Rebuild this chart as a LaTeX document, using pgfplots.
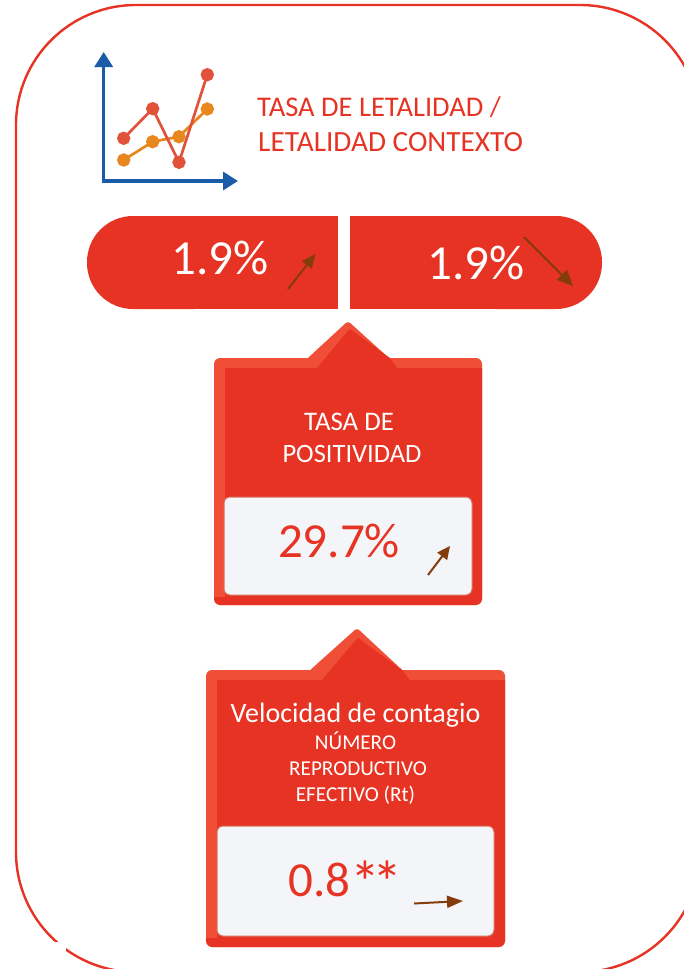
\documentclass[border=0pt]{standalone}
\usepackage{fontspec}
\setmainfont{Carlito}
\usepackage{pgfplots}
\pgfplotsset{compat=1.18}
\usetikzlibrary{arrows.meta}
\definecolor{hred}{HTML}{E73323}
\definecolor{hlight}{HTML}{F04E36}
\definecolor{hblue}{HTML}{1A5CA8}
\definecolor{hline}{HTML}{E0533A}
\definecolor{horange}{HTML}{E8871E}
\definecolor{harrow}{HTML}{843C0C}
\definecolor{hcard}{HTML}{F4F5F8}
\definecolor{hedge}{HTML}{D9705F}
\newcommand{\fs}[1]{\fontsize{#1}{#1}\selectfont}
\begin{document}
\begin{tikzpicture}
\useasboundingbox (0,0) rectangle (684pt,969pt);
\begin{axis}[
  at={(0,0)},anchor=south west,
  scale only axis,width=684pt,height=969pt,
  xmin=0,xmax=684,ymin=0,ymax=969,y dir=reverse,
  hide axis,clip=true]
% outer frame
\addplot[draw=hred,line width=2.4pt,rounded corners=120pt] coordinates {(16,5) (700,5) (700,972) (16,972)} --cycle;
\addplot[fill=white,draw=none] coordinates {(30,942) (66,942) (66,969) (30,969)} --cycle;
% icon
\addplot[hblue,line width=3.4pt,-{Triangle[length=15pt,width=18pt]}] coordinates {(103.7,181) (103.7,52)};
\addplot[hblue,line width=3.4pt,-{Triangle[length=15pt,width=18pt]}] coordinates {(102,181) (238,181)};
\addplot[horange,line width=2.7pt,mark=*,mark size=5.3pt,mark options={fill=horange,draw=none}] coordinates {(123.7,160) (152.7,141.7) (179,136.7) (207.3,109)};
\addplot[hline,line width=2.7pt,mark=*,mark size=5.3pt,mark options={fill=hline,draw=none}] coordinates {(123.7,138.3) (152.7,108.7) (179,162.3) (207.3,74.7)};
\node[anchor=base west,text=hred,inner sep=0pt] at (257,116) {\fs{28.5}TASA DE LETALIDAD /};
\node[anchor=base west,text=hred,inner sep=0pt] at (258,151) {\fs{29.3}LETALIDAD CONTEXTO};
% pills
\addplot[fill=hred,draw=none,rounded corners=46pt] coordinates {(87,216) (240,216) (240,309) (87,309)} --cycle;
\addplot[fill=hred,draw=none] coordinates {(150,216) (338,216) (338,309) (150,309)} --cycle;
\addplot[fill=hred,draw=none,rounded corners=46pt] coordinates {(450,216) (602,216) (602,309) (450,309)} --cycle;
\addplot[fill=hred,draw=none] coordinates {(350,216) (540,216) (540,309) (350,309)} --cycle;
\node[anchor=base,text=white,inner sep=0pt] at (220,274) {\fs{49}1.9\%};
\node[anchor=base,text=white,inner sep=0pt] at (476,279) {\fs{49}1.9\%};
\addplot[harrow,line width=2pt,-{Triangle[length=14pt,width=12pt]}] coordinates {(288,289) (315.5,254)};
\addplot[harrow,line width=2pt,-{Triangle[length=16pt,width=14pt]}] coordinates {(524,237) (573,286)};
% first card
\addplot[fill=hlight,draw=none,rounded corners=6pt] coordinates {(214,358) (482,358) (482,605) (214,605)} --cycle;
\addplot[fill=hlight,draw=none,rounded corners=3pt] coordinates {(296,369) (348,321) (401,369)} --cycle;
\addplot[fill=hred,draw=none] coordinates {(225,368) (317,368) (347,332) (350,329) (390,358) (397,368) (482,368) (482,599) (480,603) (476,605) (220,605) (216,603) (214,599) (214,597) (225,597)} --cycle;
\addplot[fill=hcard,draw=hedge,line width=1pt,rounded corners=6pt] coordinates {(224,497) (472,497) (472,595) (224,595)} --cycle;
\node[anchor=base,text=white,inner sep=0pt] at (349,430) {\fs{26.8}TASA DE};
\node[anchor=base,text=white,inner sep=0pt] at (352,462) {\fs{26.5}POSITIVIDAD};
\node[anchor=base,text=hred,inner sep=0pt] at (339,557) {\fs{49}29.7\%};
\addplot[harrow,line width=2pt,-{Triangle[length=13pt,width=12pt]}] coordinates {(428,575) (450,546)};
% second card
\addplot[fill=hlight,draw=none,rounded corners=6pt] coordinates {(206,670) (505,670) (505,947) (206,947)} --cycle;
\addplot[fill=hlight,draw=none,rounded corners=3pt] coordinates {(298,681) (357,628) (414,681)} --cycle;
\addplot[fill=hred,draw=none] coordinates {(217,680) (322,680) (355,641) (358,638) (402,670) (410,680) (505,680) (505,941) (503,945) (499,947) (212,947) (208,945) (206,941) (206,938) (217,938)} --cycle;
\addplot[fill=hcard,draw=hedge,line width=1pt,rounded corners=6pt] coordinates {(217,826) (494,826) (494,936) (217,936)} --cycle;
\node[anchor=base,text=white,inner sep=0pt] at (355.5,722) {\fs{28}Velocidad de contagio};
\node[anchor=base,text=white,inner sep=0pt] at (355.5,749) {\fs{21.2}NÚMERO};
\node[anchor=base,text=white,inner sep=0pt] at (358,775) {\fs{21.2}REPRODUCTIVO};
\node[anchor=base,text=white,inner sep=0pt] at (355.5,801) {\fs{21.2}EFECTIVO (Rt)};
\node[anchor=base west,text=hred,inner sep=0pt] at (288,896) {\fs{49}0.8\raisebox{-7pt}{\fs{60}*\kern-8pt*}};
\addplot[harrow,line width=2pt,-{Triangle[length=16pt,width=12pt]}] coordinates {(414,903.5) (463,901)};
\end{axis}
\end{tikzpicture}
\end{document}
